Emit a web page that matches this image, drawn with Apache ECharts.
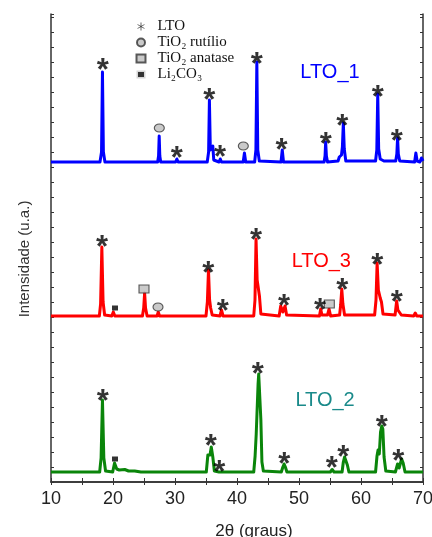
<!DOCTYPE html>
<html>
<head>
<meta charset="utf-8">
<script src="https://cdn.jsdelivr.net/npm/echarts@6/dist/echarts.min.js"></script>
<style>
html,body{margin:0;padding:0;background:#fff;}
#tu{width:432px;height:537px;}
</style>
</head>
<body>
<div id="tu"></div>
<script>
// DRX das amostras, 2θ (graus) x intensidade (u.a., com deslocamento por curva)
var xTicks = [10, 20, 30, 40, 50, 60, 70];

// LTO_1 (azul)
var lto1 = [[10,320],[17.9,320],[18.15,330],[18.3,410],[18.45,330],[18.7,320],[27.2,320],[27.35,326],[27.45,346],[27.55,326],[27.7,320],
  [30.1,320],[30.3,323],[30.5,320],[35.2,320],[35.42,330],[35.55,382],[35.7,332],[35.95,330],[36.1,336],[36.25,322],[36.5,320],
  [37.1,320],[37.3,323],[37.5,320],[41.0,320],[41.2,329],[41.4,320],[42.85,320],[43.05,332],[43.2,420],[43.35,332],[43.6,321],
  [47.1,320],[47.3,332],[47.5,320],[54.05,320],[54.2,326],[54.3,340],[54.42,326],[54.6,320],[56.3,321],[56.5,325],[56.7,324],
  [56.85,327],[57.0,335],[57.15,359],[57.3,333],[57.55,321],[62.35,321],[62.55,332],[62.7,388],[62.85,333],[63.1,323],[63.4,324],
  [63.7,321],[65.6,321],[65.78,328],[65.9,344],[66.02,328],[66.25,321],[68.65,320],[68.85,329],[69.05,321],[69.5,320],[69.75,324],[70,321]];

// LTO_3 (vermelho)
var lto3 = [[10,166],[17.8,166],[18.0,178],[18.2,235],[18.4,180],[18.65,167],[19.8,166],[20.05,170],[20.3,166],
  [24.75,166],[24.95,174],[25.1,189],[25.25,174],[25.5,166],[27.1,166],[27.3,170],[27.5,166],
  [35.0,166],[35.22,180],[35.4,212],[35.58,182],[35.75,174],[36.0,167],[37.25,166],[37.5,172],[37.75,166],
  [42.7,166],[42.9,182],[43.07,243],[43.25,202],[43.45,204],[43.62,186],[43.85,168],[44.1,166],
  [46.8,166],[47.05,176],[47.4,170],[47.75,176],[48.0,167],[53.3,166],[53.5,173],[53.7,167],[54.6,167],[54.85,173],[55.1,166],
  [56.55,167],[56.72,177],[56.9,193],[57.08,178],[57.35,167],[62.2,167],[62.42,182],[62.6,219],[62.8,192],[63.1,184],[63.3,180],[63.55,168],
  [65.5,167],[65.75,181],[65.95,172],[66.25,173],[66.5,167],[68.5,166],[68.75,169],[69.0,166],[70,166]];

// LTO_2 (verde)
var lto2 = [[10,10],[17.85,10],[18.08,24],[18.3,82],[18.52,24],[18.8,11],[19.95,10],[20.25,19],[20.6,13],[21.0,12],[21.3,13],[21.9,12.5],[22.5,11],
  [23.5,11],[24.5,10],[35.05,10],[35.3,27],[35.5,28],[35.65,27],[35.85,35],[36.1,25],[36.35,11],[37.1,10],[37.3,12],[37.5,10],
  [42.7,10],[42.92,26],[43.1,48],[43.25,47],[43.4,98],[43.5,108],[43.7,106],[43.85,62],[44.02,20],[44.25,11],
  [47.15,10],[47.4,15],[47.6,18],[47.8,15],[48.05,10],[55.05,10],[55.35,12.5],[55.65,10],
  [56.95,10],[57.15,20],[57.35,25],[57.6,25],[57.8,17],[58.05,10],[62.35,10],[62.58,26],[62.75,32],[62.95,28],[63.15,50],[63.35,56],[63.52,53],[63.72,25],[64.0,11],
  [65.55,10],[65.9,18],[66.15,14],[66.55,23],[66.8,19],[67.1,10],[70,10]];

// marcadores de fase
var ltoMarks = [[18.34,419],[30.27,331],[35.53,389],[37.26,332],[43.18,425],[47.2,339],[54.3,345],[56.98,363],[62.69,392],[65.76,348],
  [18.23,242],[35.37,216],[37.69,178],[43.06,249],[47.58,183],[53.39,179],[56.98,199],[62.63,224],[65.76,187],
  [18.34,88],[35.76,43],[37.15,17],[43.34,115],[47.63,25],[55.27,21],[57.15,32],[63.34,62],[66.02,28]];
var rutiloMarks = [[27.47,354],[41.02,336],[27.26,175]];
var anataseMarks = [[25.0,193],[54.89,178]];
var li2co3Marks = [[20.32,174],[20.32,23]];

// rótulos das curvas
var curveNames = ['LTO_1', 'LTO_3', 'LTO_2'];
var curveLabelPos = [[55.0,410], [53.6,221], [54.2,82]];

var astPath = 'path://M-1,-10L1,-10L1,10L-1,10Z M8.16,-5.87L9.16,-4.13L-8.16,5.87L-9.16,4.13Z M9.16,4.13L8.16,5.87L-9.16,-4.13L-8.16,-5.87Z';

var myChart = echarts.init(document.getElementById('tu'));
var axisCol = '#333';

function curve(name, data, color, labelColor, pos) {
  return {
    name: name,
    type: 'line',
    data: data,
    showSymbol: false,
    silent: true,
    z: 2,
    lineStyle: {color: color, width: 3, join: 'round'},
    markPoint: {
      symbolSize: 0,
      silent: true,
      label: {show: true, formatter: name, color: labelColor, fontSize: 20, fontFamily: 'Liberation Sans', position: 'inside'},
      data: [{coord: pos}]
    }
  };
}

var option = {
  animation: false,
  grid: {left: 51, right: 9, top: 14, bottom: 55, containLabel: false, outerBoundsMode: 'none'},
  legend: {
    orient: 'vertical',
    left: 130,
    top: 14,
    itemWidth: 9,
    itemHeight: 8,
    itemGap: 1,
    selectedMode: false,
    textStyle: {fontFamily: 'Liberation Serif', fontSize: 15, color: '#111', padding: [0, 0, 0, 7]},
    data: [
      {name: 'LTO', icon: astPath, itemStyle: {color: '#111'}},
      {name: 'TiO₂ rutílio'},
      {name: 'TiO₂ anatase'},
      {name: 'Li₂CO₃', itemStyle: {borderColor: '#fff', borderWidth: 3}}
    ]
  },
  xAxis: [{
    type: 'value',
    min: 10, max: 70, interval: 10,
    name: '2θ (graus)',
    nameLocation: 'middle',
    nameGap: 41,
    nameTextStyle: {fontFamily: 'Liberation Sans', fontSize: 17, color: '#222', padding: [0, 0, 0, 34]},
    axisLine: {lineStyle: {color: axisCol, width: 1.5}},
    axisTick: {inside: true, length: 4, lineStyle: {color: axisCol}},
    minorTick: {show: true, splitNumber: 2, length: 4, lineStyle: {color: axisCol}},
    axisLabel: {fontFamily: 'Liberation Sans', fontSize: 18, color: '#222', margin: 8},
    splitLine: {show: false}
  }, {
    type: 'value',
    position: 'top',
    min: 10, max: 70, interval: 5,
    axisLine: {lineStyle: {color: axisCol, width: 1.5}},
    axisTick: {inside: true, length: 3, lineStyle: {color: axisCol}},
    axisLabel: {show: false},
    splitLine: {show: false}
  }],
  yAxis: [{
    type: 'value',
    min: 0, max: 468, interval: 15,
    name: 'Intensidade (u.a.)',
    nameLocation: 'middle',
    nameGap: 19,
    nameTextStyle: {fontFamily: 'Liberation Sans', fontSize: 15, color: '#333', padding: [0, 22, 0, 0]},
    axisLine: {show: true, lineStyle: {color: axisCol, width: 1.5}},
    axisTick: {show: true, inside: true, length: 3, lineStyle: {color: axisCol}},
    axisLabel: {show: false},
    splitLine: {show: false}
  }, {
    type: 'value',
    position: 'right',
    min: 0, max: 468, interval: 15,
    axisLine: {show: true, lineStyle: {color: axisCol, width: 1.5}},
    axisTick: {show: true, inside: true, length: 3, lineStyle: {color: axisCol}},
    axisLabel: {show: false},
    splitLine: {show: false}
  }],
  series: [
    curve('LTO_1', lto1, '#0000ff', '#0000ff', curveLabelPos[0]),
    curve('LTO_3', lto3, '#ff0000', '#ff0000', curveLabelPos[1]),
    curve('LTO_2', lto2, '#0a850a', '#1a8a8a', curveLabelPos[2]),
    {
      name: 'LTO',
      type: 'scatter',
      data: ltoMarks,
      symbolSize: 1,
      silent: true,
      z: 5,
      itemStyle: {color: 'rgba(0,0,0,0)'},
      label: {show: true, formatter: '*', position: 'inside', fontFamily: 'Liberation Sans', fontWeight: 'bold', fontSize: 31, color: '#000', offset: [0, 8]}
    },
    {
      name: 'TiO₂ rutílio',
      type: 'scatter',
      data: rutiloMarks,
      symbol: 'circle',
      symbolSize: [10, 8],
      silent: true,
      z: 5,
      itemStyle: {color: '#bdbdbd', borderColor: '#333', borderWidth: 1}
    },
    {
      name: 'TiO₂ anatase',
      type: 'scatter',
      data: anataseMarks,
      symbol: 'rect',
      symbolSize: [10, 8],
      silent: true,
      z: 5,
      itemStyle: {color: '#bdbdbd', borderColor: '#333', borderWidth: 1}
    },
    {
      name: 'Li₂CO₃',
      type: 'scatter',
      data: li2co3Marks,
      symbol: 'rect',
      symbolSize: [6, 5],
      silent: true,
      z: 5,
      itemStyle: {color: '#000'}
    }
  ]
};
curveNames.forEach(function (n, i) { option.series[i].name = n; });
myChart.setOption(option);
</script>
</body>
</html>
